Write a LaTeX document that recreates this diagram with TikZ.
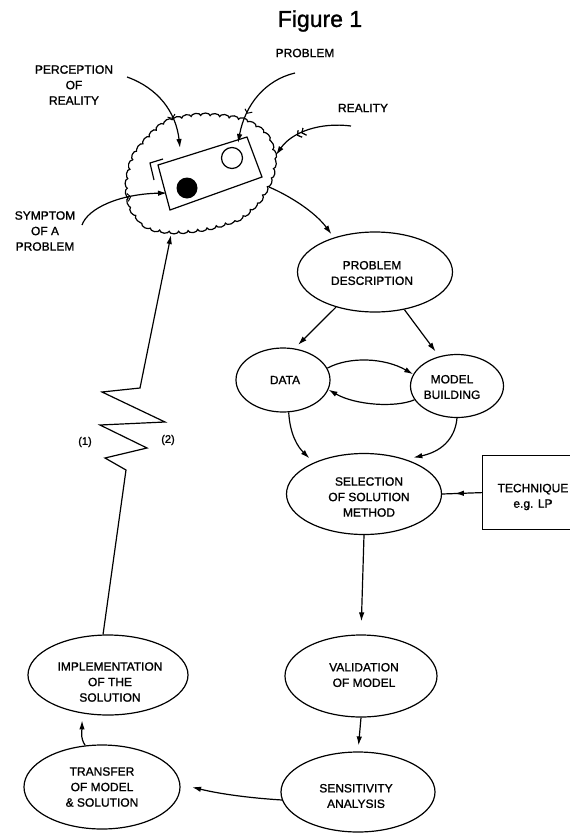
\documentclass[tikz,border=0pt]{standalone}
\usepackage{fontspec}
\setmainfont{Liberation Sans}
\newfontfamily\labfont[FakeBold=1.2]{Liberation Sans}
\usetikzlibrary{shapes.geometric,arrows.meta,decorations.pathmorphing,decorations.markings}
\begin{document}
\begin{tikzpicture}[x=1pt,y=-1pt,
  ln/.style={line width=1.2pt},
  arr/.style={ln,-{Latex[length=9pt,width=5.5pt]}},
  oval/.style={draw,ellipse,ln,inner sep=0pt},
  txt/.style={font=\labfont\fontsize{12}{15.5}\selectfont,align=center,inner sep=0pt},
  midarr/.style={ln,postaction={decorate},decoration={markings,mark=at position 0.68 with {\arrow{Latex[length=9pt,width=5.5pt]}}}},
  barbat/.style={postaction={decorate},decoration={markings,mark=at position #1 with {\arrow[line width=1pt]{Straight Barb[length=3pt,width=8pt]}}}}
]
\clip (0,0) rectangle (570,833);
\fill[white] (0,0) rectangle (570,833);

% title and labels
\node[font=\labfont\fontsize{23}{27}\selectfont,inner sep=0pt] (title) at (320,21) {Figure 1};
\node[txt] (per) at (74,85) {PERCEPTION\\OF\\REALITY};
\node[txt] (prob) at (305,53) {PROBLEM};
\node[txt] (real) at (363,108) {REALITY};
\node[txt] (sym) at (45,231) {SYMPTOM\\OF A\\PROBLEM};

% cloud
\draw[ln,decorate,decoration={bumps,amplitude=2.8pt,segment length=19pt}]
  plot[smooth cycle] coordinates {(128,187) (133,160) (147,140) (167,123) (200,116) (240,120) (263,133) (273,153) (272,173) (266,188) (258,201) (240,217) (210,227) (177,231) (150,227) (133,210)};
\draw[ln] (158,165) -- (247,137) -- (262,177) -- (170,210) -- cycle;
\draw[ln] (154,180) -- (150,163) -- (163,159);
\fill (187,188) circle (10.5);
\draw[ln] (232,158) circle (10.5);

\coordinate (perA) at (127,77);
\coordinate (perB) at (180,148);
\coordinate (probA) at (295,73);
\coordinate (probB) at (238,143);
\coordinate (realA) at (351,126);
\coordinate (realB) at (276,155);
\coordinate (symA) at (82,225);
\coordinate (symB) at (167,193);
\coordinate (clE) at (269,187);
\coordinate (clS) at (171,235);

\draw[arr,barbat=0.68] (perA) .. controls (158,88) and (176,112) .. (perB);
\draw[arr,barbat=0.68] (probA) .. controls (265,80) and (245,105) .. (probB);
\draw[arr,barbat=0.6,barbat=0.66] (realA) .. controls (320,122) and (292,132) .. (realB);
\draw[arr,barbat=0.62] (symA) .. controls (88,208) and (120,194) .. (symB);

% right column
\node[oval,minimum width=155,minimum height=80] (pd) at (375,272) {};
\node[txt] at (372,273) {PROBLEM\\DESCRIPTION};
\node[oval,minimum width=94,minimum height=64] (data) at (283,380) {};
\node[txt] at (285,380) {DATA};
\node[oval,minimum width=93,minimum height=63] (model) at (457,386) {};
\node[txt] at (452,387) {MODEL\\BUILDING};
\node[oval,minimum width=155,minimum height=81] (sel) at (364,494) {};
\node[txt] at (369,497) {SELECTION\\OF SOLUTION\\METHOD};
\node[draw,ln,minimum width=110,minimum height=74,inner sep=0pt,anchor=north west] (tech) at (482,455) {};
\node[txt] at (533,497) {TECHNIQUE\\e.g. LP};
\node[oval,minimum width=152,minimum height=82] (val) at (361,676) {};
\node[txt] at (364,675) {VALIDATION\\OF MODEL};
\node[oval,minimum width=154,minimum height=80] (sens) at (358,792) {};
\node[txt] at (356,796) {SENSITIVITY\\ANALYSIS};
\node[oval,minimum width=156,minimum height=84] (tr) at (102,787) {};
\node[txt] at (102,787) {TRANSFER\\OF MODEL\\\& SOLUTION};
\node[oval,minimum width=160,minimum height=80] (impl) at (108,675) {};
\node[txt] at (110,682) {IMPLEMENTATION\\OF THE\\SOLUTION};

\draw[arr,shorten >=4pt] (clE) .. controls (290,196) and (315,212) .. (pd.140);
\draw[arr,shorten >=5pt] (pd.222) -- (data.70);
\draw[arr,shorten >=6pt] (pd.308) -- (model.121);
\draw[arr] (data.15) .. controls (350,356) and (385,358) .. (model.165);
\draw[arr] (model.198) .. controls (395,408) and (355,405) .. (data.348);
\draw[arr,shorten >=6pt] (data.280) .. controls (290,435) and (298,447) .. (sel.148);
\draw[arr,shorten >=8pt] (model.270) .. controls (455,440) and (440,452) .. (sel.40);
\draw[midarr] (tech.west) -- (sel.east);
\draw[arr,shorten >=13pt] (sel.south) -- (val.north);
\draw[arr,shorten >=6pt] (val.south) -- (sens.north);
\draw[arr,shorten >=12pt] (sens.186) .. controls (250,798) and (220,794) .. (tr.2);
\draw[arr,shorten >=7pt] (tr.112) .. controls (80,738) and (82,730) .. (impl.236);

% feedback zigzag
\draw[arr] (impl.97) -- (126,470) -- (105,458) -- (147,448) -- (100,425) -- (165,422) -- (102,392) -- (140,388) -- (clS);
\node[font=\labfont\fontsize{11}{13}\selectfont,inner sep=0pt] (one) at (85,442) {(1)};
\node[font=\labfont\fontsize{11}{13}\selectfont,inner sep=0pt] (two) at (168,440) {(2)};
\end{tikzpicture}
\end{document}
